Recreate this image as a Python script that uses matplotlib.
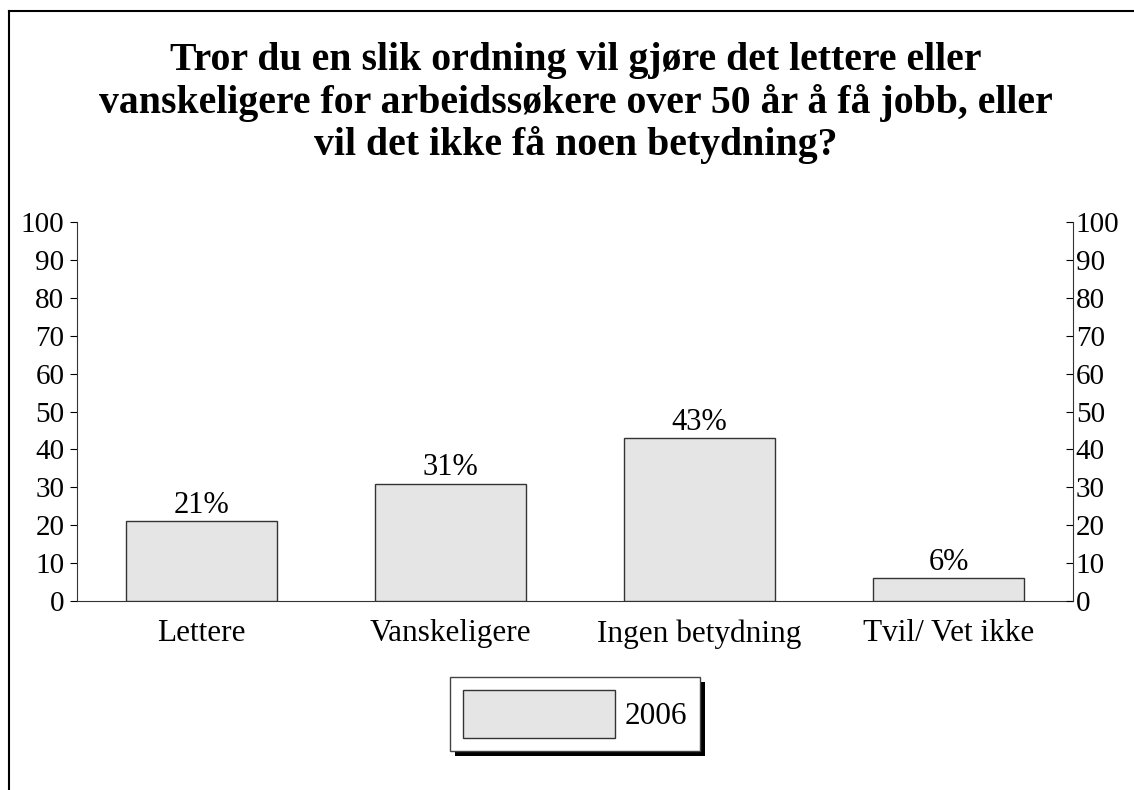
import matplotlib
matplotlib.use('Agg')
import matplotlib.pyplot as plt
from matplotlib.lines import Line2D
from matplotlib.patches import Rectangle

categories = ['Lettere', 'Vanskeligere', 'Ingen betydning', 'Tvil/ Vet ikke']
values_2006 = [21, 31, 43, 6]
series_label = '2006'
yticks = list(range(0, 101, 10))
title = ('Tror du en slik ordning vil gjøre det lettere eller\n'
         'vanskeligere for arbeidssøkere over 50 år å få jobb, eller\n'
         'vil det ikke få noen betydning?')

plt.rcParams['font.family'] = ['Liberation Serif', 'DejaVu Serif']

W, H = 1134, 790
fig = plt.figure(figsize=(W / 100, H / 100), dpi=100)
ax = fig.add_axes([0.0679, 0.2392, 0.8783, 0.4798])

x = range(len(categories))
bars = ax.bar(x, values_2006, width=0.606, color='#e5e5e5',
              edgecolor='#333333', linewidth=1, label=series_label, zorder=3)

for b, v in zip(bars, values_2006):
    ax.text(b.get_x() + b.get_width() / 2, v + 0.3, f'{v}%',
            ha='center', va='bottom', fontsize=22)

ax.set_xlim(-0.5, len(categories) - 0.5)
ax.set_ylim(0, 100)
ax.set_yticks(yticks)
ax.set_xticks(list(x))
ax.set_xticklabels(categories, fontsize=22.5)
ax.tick_params(axis='x', length=0, pad=13)
ax.tick_params(axis='y', direction='out', length=5, labelsize=21, pad=4)
for s in ['top', 'right']:
    ax.spines[s].set_visible(False)
ax.spines['left'].set_color('#333333')
ax.spines['bottom'].set_color('#333333')

ax2 = ax.twinx()
ax2.set_ylim(0, 100)
ax2.set_yticks(yticks)
ax2.tick_params(axis='y', direction='in', length=5, labelsize=21, pad=2)
for s in ['top', 'left', 'bottom']:
    ax2.spines[s].set_visible(False)
ax2.spines['right'].set_color('#333333')

fig.text(0.508, 1 - 103 / H, title, ha='center', va='center', fontsize=28.6,
         fontweight='bold', linespacing=1.15)

leg = fig.legend(handles=[bars], labels=[series_label], loc='center',
                 bbox_to_anchor=(575 / W, 1 - 714 / H),
                 bbox_transform=fig.transFigure, fontsize=22.5,
                 handlelength=4.85, handleheight=2.0, borderpad=0.42,
                 handletextpad=0.3, fancybox=False, edgecolor='#444444',
                 framealpha=1)
leg.get_frame().set_linewidth(1)
leg.set_zorder(6)

# drop shadow behind the legend box
fig.canvas.draw()
bb = leg.get_window_extent()
fig.add_artist(Rectangle((bb.x0 + 5, bb.y0 - 5), bb.width, bb.height,
                         transform=None, facecolor='black',
                         edgecolor='none', zorder=5))

# outer frame: left and top edges
fig.add_artist(Line2D([9 / W, 9 / W], [0, 1 - 11 / H],
                      transform=fig.transFigure, color='black', lw=1.5))
fig.add_artist(Line2D([9 / W, 1], [1 - 11 / H, 1 - 11 / H],
                      transform=fig.transFigure, color='black', lw=1.5))

fig.savefig('out.png', dpi=100)
